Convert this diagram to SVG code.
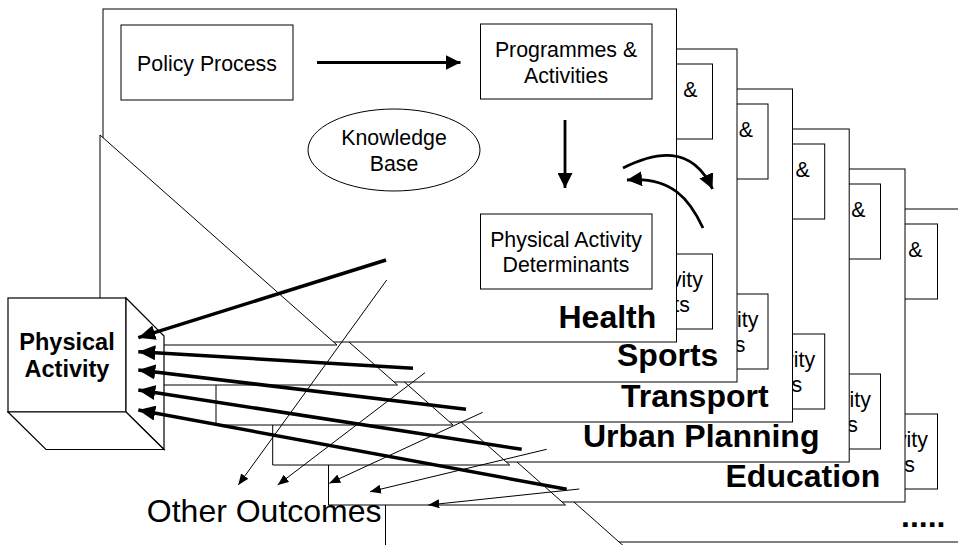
<svg xmlns="http://www.w3.org/2000/svg" width="958" height="545" viewBox="0 0 958 545">
<defs>
<style>
.pn{fill:#fff;stroke:#000;stroke-width:1}
.bx{fill:#fff;stroke:#000;stroke-width:1}
.tri{fill:#fff;stroke:#000;stroke-width:1;stroke-linejoin:miter}
.t{font-family:"Liberation Sans",Arial,sans-serif;font-size:21.33px;fill:#000;text-anchor:middle}
.te{font-family:"Liberation Sans",Arial,sans-serif;font-size:21.33px;fill:#000;text-anchor:end}
.lbl{font-family:"Liberation Sans",Arial,sans-serif;font-size:32px;font-weight:bold;fill:#000}
.cube{fill:#fff;stroke:#000;stroke-width:1.2;stroke-linejoin:miter}
.ct{font-family:"Liberation Sans",Arial,sans-serif;font-size:23.5px;font-weight:bold;fill:#000;text-anchor:middle}
.thick{fill:none;stroke:#000;stroke-width:3.5;marker-end:url(#ahL)}
.thin{fill:none;stroke:#000;stroke-width:1;marker-end:url(#ahS)}
.mid{fill:none;stroke:#000;stroke-width:2.8;marker-end:url(#ahM)}
</style>
<marker id="ahL" markerUnits="userSpaceOnUse" markerWidth="17" markerHeight="15" refX="17" refY="7.5" orient="auto"><path d="M0,0 L17,7.5 L0,15 z" fill="#000"/></marker>
<marker id="ahM" markerUnits="userSpaceOnUse" markerWidth="15" markerHeight="15" refX="15" refY="7.5" orient="auto"><path d="M0,0 L15,7.5 L0,15 z" fill="#000"/></marker>
<marker id="ahS" markerUnits="userSpaceOnUse" markerWidth="11" markerHeight="9" refX="11" refY="4.5" orient="auto"><path d="M0,0 L11,4.5 L0,9 z" fill="#000"/></marker>
</defs>

<g id="panel-more">
<g transform="translate(285.5,200)">
<rect class="pn" x="103" y="9" width="573.5" height="333"/>
<rect class="bx" x="480.5" y="24" width="171.5" height="75"/>
<text class="te" x="637" y="57">&amp;</text>
<rect class="bx" x="480.5" y="214" width="171.5" height="75"/>
<text class="te" x="642.4" y="246.5">vity</text>
<text class="te" x="629.4" y="272">ts</text>
</g>
<text class="lbl" x="901" y="527">.....</text>
<g transform="translate(285.5,200)"><polygon class="tri" points="100,135 341.5,349 100,349"/></g>
</g>

<g id="panel-education">
<g transform="translate(228.5,160)">
<rect class="pn" x="103" y="9" width="573.5" height="333"/>
<rect class="bx" x="480.5" y="24" width="171.5" height="75"/>
<text class="te" x="637" y="57">&amp;</text>
<rect class="bx" x="480.5" y="214" width="171.5" height="75"/>
<text class="te" x="642.4" y="246.5">vity</text>
<text class="te" x="629.4" y="272">ts</text>
</g>
<text class="lbl" x="725.5" y="487">Education</text>
<g transform="translate(228.5,160)"><polygon class="tri" points="100,135 337,345 100,345"/></g>
</g>

<g id="panel-urban-planning">
<g transform="translate(172.7,120)">
<rect class="pn" x="103" y="9" width="573.5" height="333"/>
<rect class="bx" x="480.5" y="24" width="171.5" height="75"/>
<text class="te" x="637" y="57">&amp;</text>
<rect class="bx" x="480.5" y="214" width="171.5" height="75"/>
<text class="te" x="642.4" y="246.5">vity</text>
<text class="te" x="629.4" y="272">ts</text>
</g>
<text class="lbl" x="583" y="447">Urban Planning</text>
<g transform="translate(172.7,120)"><polygon class="tri" points="100,135 337,345 100,345"/></g>
</g>

<g id="panel-transport">
<g transform="translate(116,80)">
<rect class="pn" x="103" y="9" width="573.5" height="333"/>
<rect class="bx" x="480.5" y="24" width="171.5" height="75"/>
<text class="te" x="637" y="57">&amp;</text>
<rect class="bx" x="480.5" y="214" width="171.5" height="75"/>
<text class="te" x="642.4" y="246.5">vity</text>
<text class="te" x="629.4" y="272">ts</text>
</g>
<text class="lbl" x="621" y="407">Transport</text>
<g transform="translate(116,80)"><polygon class="tri" points="100,135 337,345 100,345"/></g>
</g>

<g id="panel-sports">
<g transform="translate(60.5,40)">
<rect class="pn" x="103" y="9" width="573.5" height="333"/>
<rect class="bx" x="480.5" y="24" width="171.5" height="75"/>
<text class="te" x="637" y="57">&amp;</text>
<rect class="bx" x="480.5" y="214" width="171.5" height="75"/>
<text class="te" x="642.4" y="246.5">vity</text>
<text class="te" x="629.4" y="272">ts</text>
</g>
<text class="lbl" x="617" y="366">Sports</text>
<g transform="translate(60.5,40)"><polygon class="tri" points="100,135 337,345 100,345"/></g>
</g>

<g id="panel-health">
<rect class="pn" x="103" y="9" width="573.5" height="333"/>
<g id="policy-process">
<rect class="bx" x="121" y="25" width="172" height="75"/>
<text class="t" x="207" y="71">Policy Process</text>
</g>
<g id="programmes-activities">
<rect class="bx" x="480.5" y="24" width="171.5" height="75"/>
<text class="t" x="566" y="57">Programmes &amp;</text>
<text class="t" x="566" y="83">Activities</text>
</g>
<g id="knowledge-base">
<ellipse class="bx" cx="394" cy="150" rx="86" ry="41"/>
<text class="t" x="394" y="145">Knowledge</text>
<text class="t" x="394" y="171">Base</text>
</g>
<g id="pa-determinants">
<rect class="bx" x="480.5" y="214" width="171.5" height="75"/>
<text class="t" x="566" y="246.5">Physical Activity</text>
<text class="t" x="566" y="272">Determinants</text>
</g>
<text class="lbl" x="558.5" y="328">Health</text>
<polygon class="tri" points="100,135 337,345 100,345"/>
</g>

<g id="physical-activity">
<rect class="cube" x="8" y="298" width="118" height="114"/>
<polygon class="cube" points="126,298 164,336 164,449.5 126,412"/>
<polygon class="cube" points="8,412 126,412 164,449.5 46,449.5"/>
<text class="ct" x="67" y="350">Physical</text>
<text class="ct" x="67" y="377">Activity</text>
</g>

<g id="other-outcomes">
<text x="146.8" y="521.7" font-family="'Liberation Sans', Arial, sans-serif" font-size="32px">Other Outcomes</text>
</g>

<g id="connectors">
<line class="mid" x1="317" y1="62.5" x2="460.5" y2="62.5"/>
<line class="mid" x1="565" y1="120" x2="565" y2="188"/>
<path class="mid" d="M623,168 C655,152 692,144 712.5,189"/>
<path class="mid" d="M703,228 C690,200 672,176 627,180"/>
<line class="thick" x1="386" y1="260" x2="138.3" y2="337.7"/>
<line class="thick" x1="413" y1="368.3" x2="138.3" y2="351.7"/>
<line class="thick" x1="466" y1="409.3" x2="138.3" y2="370"/>
<line class="thick" x1="521.7" y1="449.3" x2="138.3" y2="390"/>
<line class="thick" x1="566.7" y1="489.3" x2="138.3" y2="410"/>
<line class="thin" x1="386.7" y1="280" x2="238.3" y2="485"/>
<line class="thin" x1="425" y1="372.7" x2="277.7" y2="485"/>
<line class="thin" x1="482.7" y1="412.3" x2="329.3" y2="483.3"/>
<line class="thin" x1="546.7" y1="449.3" x2="370" y2="491.7"/>
<line class="thin" x1="579.3" y1="489" x2="428.3" y2="505"/>
</g>
</svg>
